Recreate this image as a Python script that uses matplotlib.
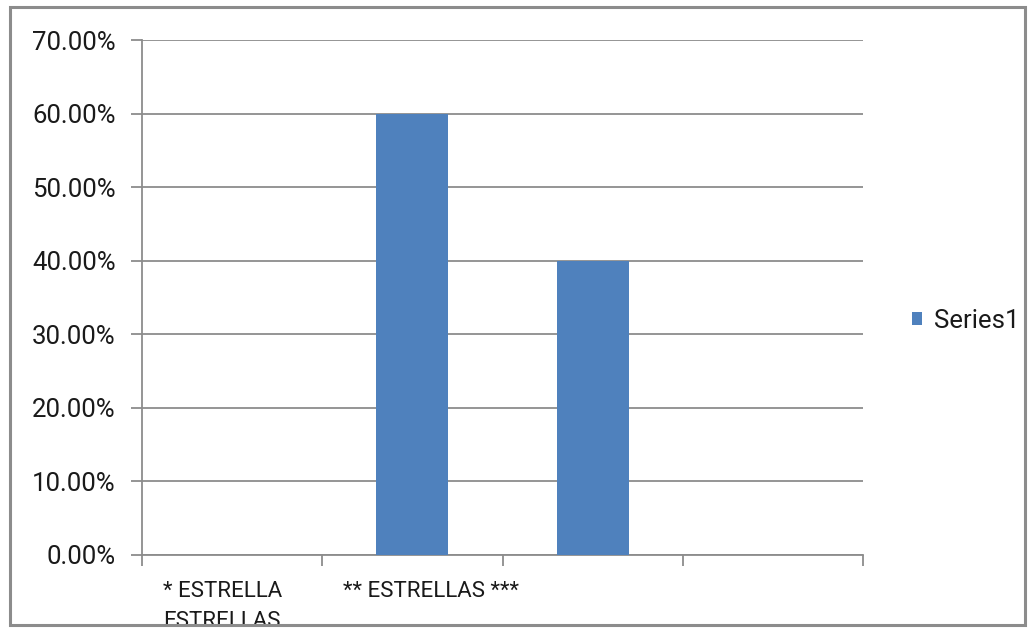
import matplotlib.pyplot as plt
import matplotlib.transforms as mtransforms
from matplotlib.patches import Rectangle
from matplotlib.ticker import PercentFormatter

# data
categories = ["* ESTRELLA\nESTRELLAS", "** ESTRELLAS ***", "", ""]
values = [0.0, 60.0, 40.0, 0.0]
series_name = "Series1"

bar_color = "#4F81BD"
grid_color = "#8C8C8C"
text_color = "#1a1a1a"

plt.rcParams['font.family'] = ['Roboto', 'DejaVu Sans']

W, H = 1035, 628
fig = plt.figure(figsize=(W / 100, H / 100), dpi=100)
ax = fig.add_axes([142 / W, 1 - 555 / H, (863 - 142) / W, (555 - 40) / H])

# outer chart border
fig.patches.append(Rectangle((10 / W, 3 / H), 1015 / W, 618 / H,
                             transform=fig.transFigure, fill=False,
                             edgecolor=grid_color, linewidth=2.2))

x = list(range(len(categories)))
ax.bar(x, values, width=0.4, color=bar_color, label=series_name, zorder=3)

ax.set_xlim(-0.5, len(categories) - 0.5)
ax.set_ylim(0, 70)
ax.set_yticks(range(0, 71, 10))
ax.yaxis.set_major_formatter(PercentFormatter(decimals=2))
ax.grid(axis='y', color=grid_color, linewidth=1.3, zorder=0)

for side in ['top', 'right']:
    ax.spines[side].set_visible(False)
for side in ['left', 'bottom']:
    ax.spines[side].set_color(grid_color)
    ax.spines[side].set_linewidth(1.3)

# x ticks at the category boundaries
ax.set_xticks([i - 0.5 for i in range(len(categories) + 1)])
ax.set_xticklabels([])
ax.tick_params(axis='x', length=8, color=grid_color, width=1.3)
ax.tick_params(axis='y', length=8, color=grid_color, width=1.3,
               labelsize=18.5, pad=11, labelcolor=text_color)

# category labels, left aligned in each slot, cut off by the chart border
clip = mtransforms.TransformedBbox(mtransforms.Bbox([[0, 4 / H], [1, 1]]), fig.transFigure)
offset = mtransforms.ScaledTranslation(0.21, -0.26, fig.dpi_scale_trans)
trans = mtransforms.blended_transform_factory(ax.transData, ax.transAxes) + offset
for i, lab in enumerate(categories):
    t = ax.text(i - 0.5, 0, lab, transform=trans, ha='left', va='top',
                fontsize=16, color=text_color, linespacing=1.55, clip_on=True)
    t.set_clip_box(clip)

fig.legend(loc='center left', bbox_to_anchor=(912 / W, 1 - 321 / H),
           frameon=False, fontsize=18.5, handlelength=0.4, handleheight=0.4,
           handletextpad=0.45, borderpad=0, borderaxespad=0,
           labelcolor=text_color)

fig.savefig("out.png", dpi=100)
